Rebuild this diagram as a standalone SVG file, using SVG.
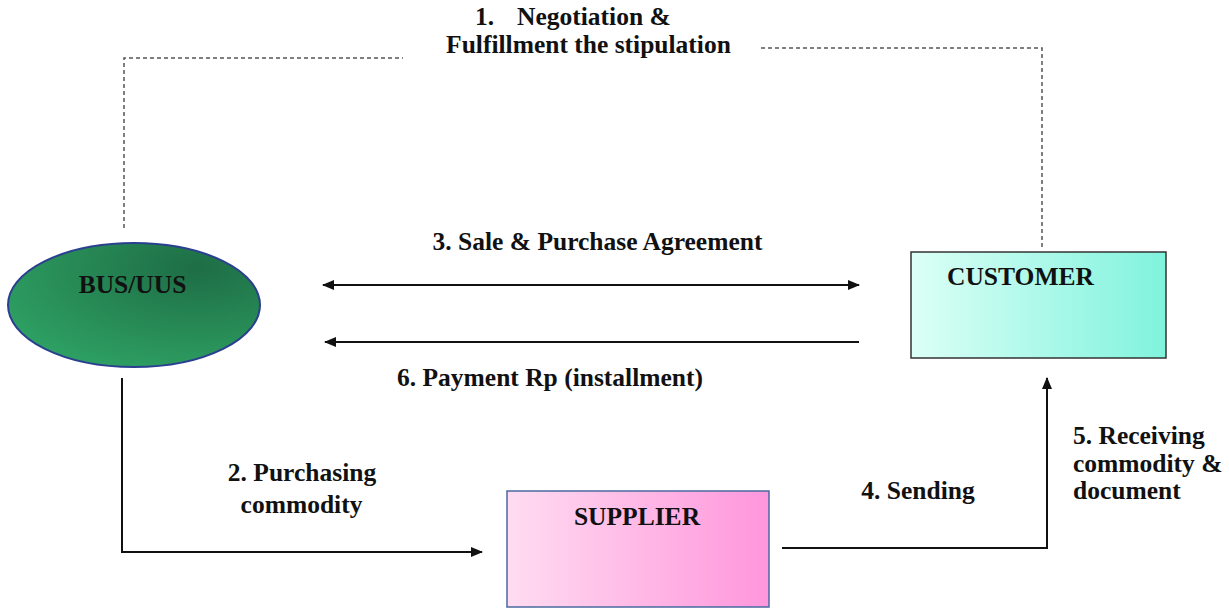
<svg xmlns="http://www.w3.org/2000/svg" width="1229" height="609" viewBox="0 0 1229 609">
<style>
.t{font-family:"Liberation Serif","Times New Roman",serif;font-weight:bold;font-size:25.5px;fill:#111}
.c{stroke:#111;stroke-width:2;fill:none}
.d{stroke:#555;stroke-width:1.5;fill:none;stroke-dasharray:4 3}
</style>
<defs>
<radialGradient id="gG" cx="0.75" cy="0.2" r="0.9">
<stop offset="0" stop-color="#1e6d45"/>
<stop offset="1" stop-color="#2ea163"/>
</radialGradient>
<linearGradient id="gC" x1="0" y1="0" x2="1" y2="0">
<stop offset="0" stop-color="#dcfff6"/>
<stop offset="1" stop-color="#80f3dd"/>
</linearGradient>
<linearGradient id="gS" x1="0" y1="0" x2="1" y2="0">
<stop offset="0" stop-color="#ffdcf1"/>
<stop offset="1" stop-color="#ff96dc"/>
</linearGradient>
<marker id="ah" viewBox="0 0 12 10" refX="11" refY="5" markerWidth="12" markerHeight="10" markerUnits="userSpaceOnUse" orient="auto-start-reverse">
<path d="M0,0 L12,5 L0,10 Z" fill="#111"/>
</marker>
</defs>
<g id="connectors">
<polyline class="d" points="124,228 124,58 403,58"/>
<polyline class="d" points="761,48 1042,48 1042,250"/>
<line class="c" x1="323" y1="285" x2="859" y2="285" marker-start="url(#ah)" marker-end="url(#ah)"/>
<line class="c" x1="859" y1="342" x2="325" y2="342" marker-end="url(#ah)"/>
<polyline class="c" points="122,378 122,552 482,552" marker-end="url(#ah)"/>
<polyline class="c" points="782,548 1047,548 1047,378" marker-end="url(#ah)"/>
<text class="t" x="475" y="25">1.</text>
<text class="t" x="517" y="25">Negotiation &amp;</text>
<text class="t" x="588.5" y="53" text-anchor="middle">Fulfillment the stipulation</text>
<text class="t" x="597.5" y="250" text-anchor="middle">3. Sale &amp; Purchase Agreement</text>
<text class="t" x="550" y="386" text-anchor="middle">6. Payment Rp (installment)</text>
<text class="t" x="302" y="481" text-anchor="middle">2. Purchasing</text>
<text class="t" x="301.5" y="513" text-anchor="middle">commodity</text>
<text class="t" x="918" y="499" text-anchor="middle">4. Sending</text>
<text class="t" x="1073" y="444">5. Receiving</text>
<text class="t" x="1073" y="472">commodity &amp;</text>
<text class="t" x="1073" y="499">document</text>
</g>
<g id="bus">
<ellipse cx="134" cy="305" rx="126" ry="62" fill="url(#gG)" stroke="#2b3f8f" stroke-width="2"/>
<text class="t" x="132.5" y="293" text-anchor="middle">BUS/UUS</text>
</g>
<g id="customer">
<rect x="911" y="252" width="255" height="106" fill="url(#gC)" stroke="#333" stroke-width="1.5"/>
<text class="t" x="947" y="285">CUSTOMER</text>
</g>
<g id="supplier">
<rect x="507" y="491" width="262" height="116" fill="url(#gS)" stroke="#4a6aa0" stroke-width="1.5"/>
<text class="t" x="637" y="525" text-anchor="middle">SUPPLIER</text>
</g>
</svg>
